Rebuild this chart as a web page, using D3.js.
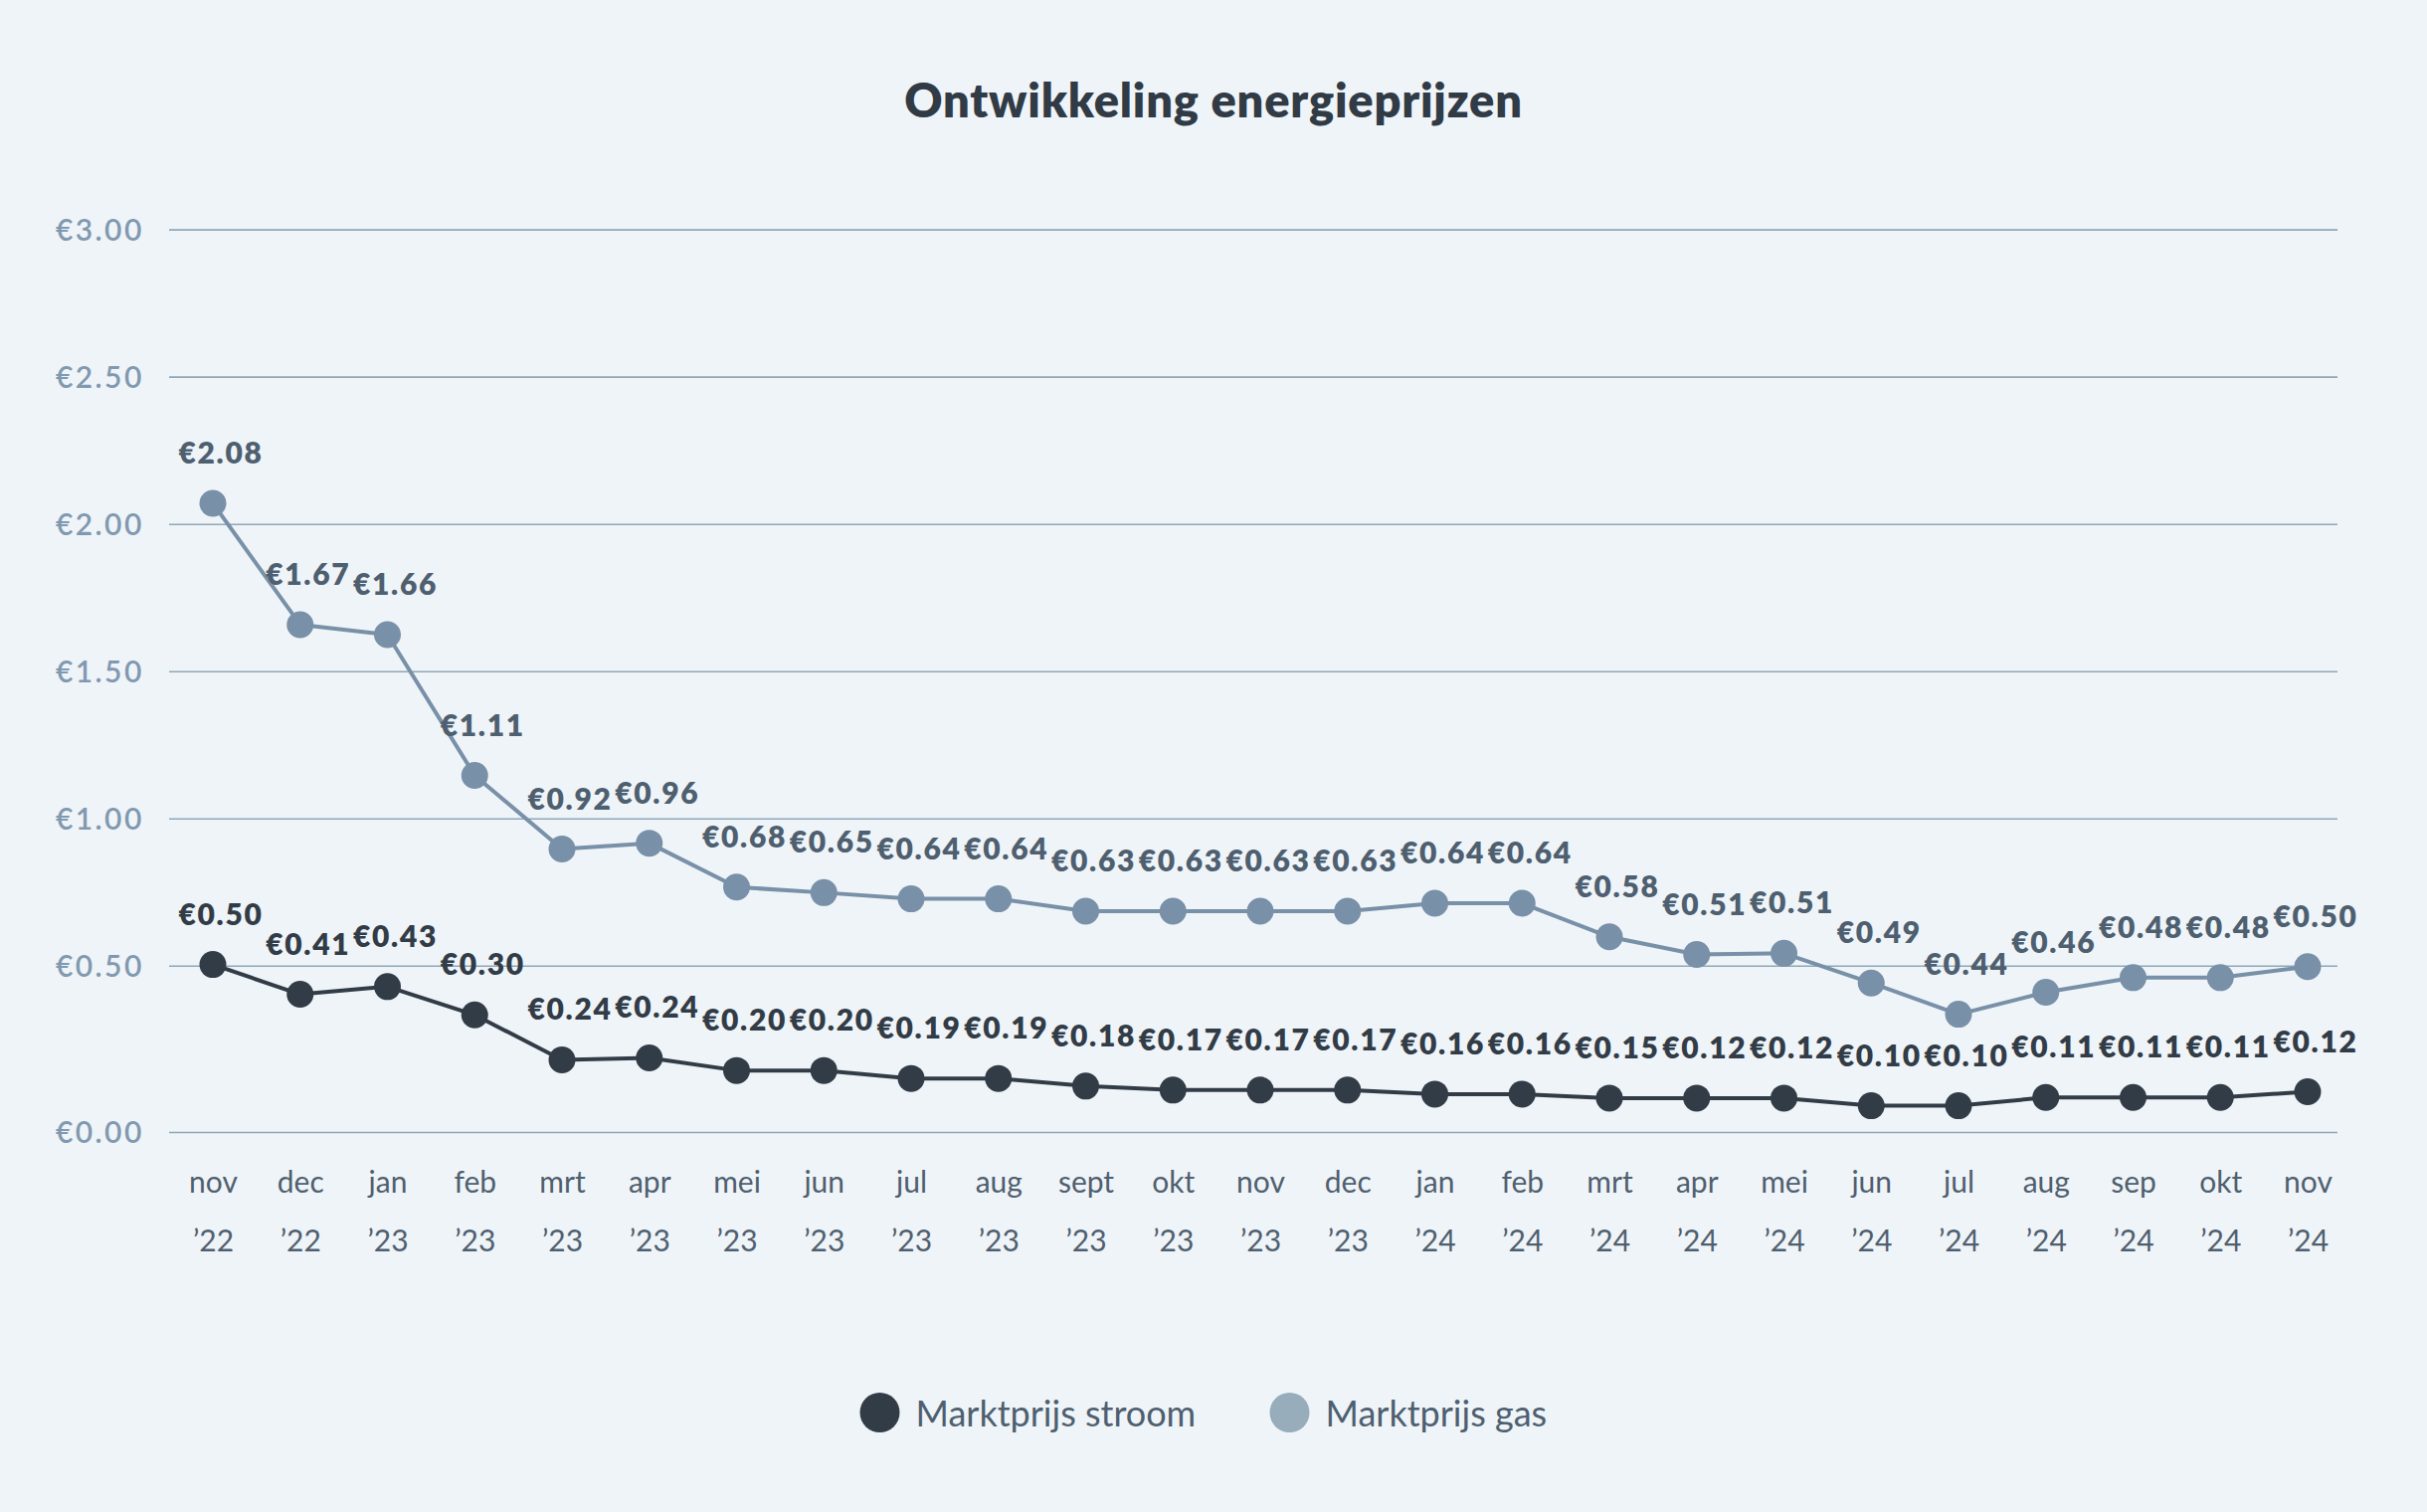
<!DOCTYPE html>
<html>
<head>
<meta charset="utf-8">
<script src="https://cdn.jsdelivr.net/npm/d3@7"></script>
<style>
  html, body { margin: 0; padding: 0; background: #eff4f8; }
  svg { display: block; }
  text { font-family: Lato, "Noto Sans", sans-serif; }
</style>
</head>
<body>
<svg id="chart" width="2440" height="1520"></svg>
<script>
// ---- data ----
const categories = ["nov ’22","dec ’22","jan ’23","feb ’23","mrt ’23","apr ’23","mei ’23","jun ’23","jul ’23","aug ’23","sept ’23","okt ’23","nov ’23","dec ’23","jan ’24","feb ’24","mrt ’24","apr ’24","mei ’24","jun ’24","jul ’24","aug ’24","sep ’24","okt ’24","nov ’24"];
// plotted positions
const stroomValues = [0.504,0.414,0.437,0.352,0.217,0.223,0.185,0.185,0.161,0.161,0.138,0.126,0.126,0.126,0.114,0.114,0.102,0.102,0.102,0.079,0.079,0.104,0.104,0.104,0.121];
const gasValues    = [2.070,1.658,1.624,1.146,0.896,0.916,0.767,0.748,0.727,0.727,0.685,0.685,0.685,0.685,0.712,0.712,0.598,0.538,0.542,0.448,0.354,0.420,0.464,0.464,0.497];
// value labels printed above the points
const stroomLabels = ["€0.50","€0.41","€0.43","€0.30","€0.24","€0.24","€0.20","€0.20","€0.19","€0.19","€0.18","€0.17","€0.17","€0.17","€0.16","€0.16","€0.15","€0.12","€0.12","€0.10","€0.10","€0.11","€0.11","€0.11","€0.12"];
const gasLabels    = ["€2.08","€1.67","€1.66","€1.11","€0.92","€0.96","€0.68","€0.65","€0.64","€0.64","€0.63","€0.63","€0.63","€0.63","€0.64","€0.64","€0.58","€0.51","€0.51","€0.49","€0.44","€0.46","€0.48","€0.48","€0.50"];
const yTicks = [0, 0.5, 1, 1.5, 2, 2.5, 3];
const seriesNames = ["Marktprijs stroom", "Marktprijs gas"];
const titleText = "Ontwikkeling energieprijzen";

// ---- layout ----
const W = 2440, H = 1520;
const gridLeft = 170, gridRight = 2350;
const colors = {
  bg: "#eff4f8", title: "#313b46", grid: "#8fa7b8", yLabel: "#8199b0",
  xLabel: "#4f5f6f", stroom: "#323c47", gas: "#7890a8", gasLabel: "#4e5f70",
  gasLegend: "#97adbb", legendText: "#4e5f70"
};

const svg = d3.select("#chart");
svg.append("rect").attr("width", W).attr("height", H).attr("fill", colors.bg);

const x = d3.scalePoint().domain(categories).range([214, 2320]);
// the axis is stretched below €0.50 in the original
const y = d3.scaleLinear().domain([0, 0.5, 3]).range([1138, 970.8, 230.6]);

// title
svg.append("text")
  .attr("x", W / 2).attr("y", 100)
  .attr("text-anchor", "middle").attr("dominant-baseline", "central")
  .attr("font-size", 47).attr("font-weight", 800)
  .attr("letter-spacing", 0.8)
  .attr("fill", colors.title)
  .text(titleText);

// y axis with gridlines
const yAxis = d3.axisLeft(y)
  .tickValues(yTicks)
  .tickSize(-(gridRight - gridLeft))
  .tickPadding(0)
  .tickFormat(d => "€" + d3.format(".2f")(d));
const gy = svg.append("g").attr("transform", `translate(${gridLeft},0)`).call(yAxis);
gy.select(".domain").remove();
gy.selectAll(".tick line").attr("stroke", colors.grid).attr("stroke-width", 1.6);
gy.selectAll(".tick text")
  .attr("x", 56 - gridLeft).attr("text-anchor", "start")
  .attr("dy", "0.35em")
  .attr("font-size", 30).attr("font-weight", 600)
  .attr("letter-spacing", 2.4)
  .attr("fill", colors.yLabel);

// x axis (two-line labels)
const xAxis = d3.axisBottom(x).tickSize(0).tickFormat("");
const gx = svg.append("g").attr("transform", "translate(0,1138)").call(xAxis);
gx.select(".domain").remove();
gx.selectAll(".tick").each(function(d) {
  const parts = d.split(" ");
  const t = d3.select(this).append("text")
    .attr("text-anchor", "middle")
    .attr("font-size", 30).attr("font-weight", 400)
    .attr("fill", colors.xLabel);
  t.append("tspan").attr("x", 0).attr("y", 50).attr("dy", "0.35em").text(parts[0]);
  t.append("tspan").attr("x", 0).attr("y", 109).attr("dy", "0.35em").text(parts[1]);
});

// series
const series = [
  { name: seriesNames[1], values: gasValues, labels: gasLabels, color: colors.gas, labelColor: colors.gasLabel },
  { name: seriesNames[0], values: stroomValues, labels: stroomLabels, color: colors.stroom, labelColor: colors.stroom }
];
const line = d3.line().x((d, i) => x(categories[i])).y(d => y(d));

series.forEach(s => {
  const g = svg.append("g");
  g.append("path").datum(s.values)
    .attr("d", line).attr("fill", "none")
    .attr("stroke", s.color).attr("stroke-width", 4).attr("stroke-linejoin", "round");
  g.selectAll("circle").data(s.values).join("circle")
    .attr("cx", (d, i) => x(categories[i])).attr("cy", d => y(d))
    .attr("r", 13.5).attr("fill", s.color);
  g.selectAll("text").data(s.values).join("text")
    .attr("x", (d, i) => x(categories[i]) + 8)
    .attr("y", d => y(d) - 52)
    .attr("text-anchor", "middle").attr("dominant-baseline", "central")
    .attr("font-size", 30).attr("font-weight", 800)
    .attr("letter-spacing", 1.6)
    .attr("fill", s.labelColor)
    .text((d, i) => s.labels[i]);
});

// legend
const legendItems = [
  { name: seriesNames[0], color: colors.stroom, cx: 884.5 },
  { name: seriesNames[1], color: colors.gasLegend, cx: 1296.5 }
];
const lg = svg.append("g");
legendItems.forEach(it => {
  lg.append("circle").attr("cx", it.cx).attr("cy", 1420).attr("r", 20).attr("fill", it.color);
  lg.append("text").attr("x", it.cx + 36).attr("y", 1420)
    .attr("dominant-baseline", "central")
    .attr("font-size", 36).attr("font-weight", 400)
    .attr("fill", colors.legendText)
    .text(it.name);
});
</script>
</body>
</html>
